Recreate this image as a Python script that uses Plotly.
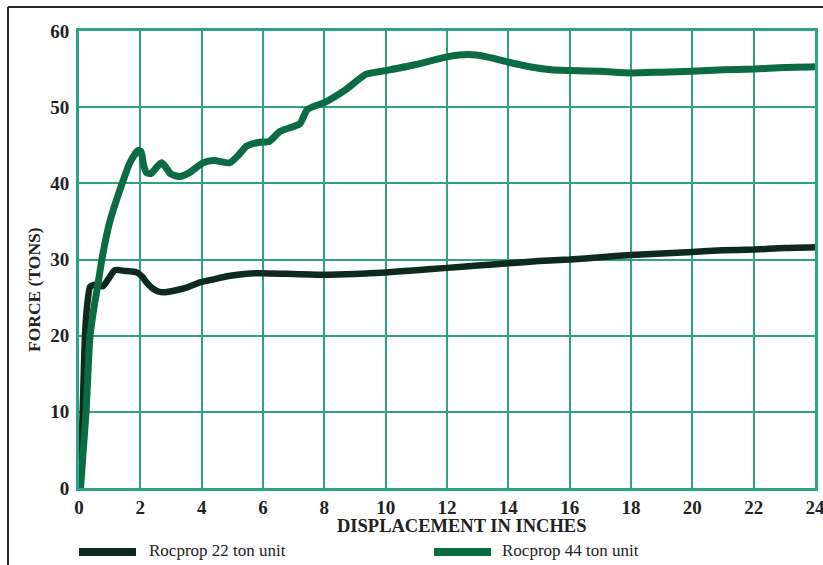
import plotly.graph_objects as go

# Rocprop 22 ton unit (dark line)
x22 = [0.05, 0.12, 0.2, 0.28, 0.36, 0.52, 0.78, 0.95, 1.17, 1.5, 1.89, 2.05, 2.2, 2.4, 2.58, 2.8, 2.97, 3.5, 3.95, 4.4, 4.83, 5.4, 5.9, 7.0, 8.0, 9.0, 10.0, 11.0, 12.0, 13.0, 14.0, 15.0, 16.0, 17.0, 18.0, 19.0, 20.0, 21.0, 22.0, 23.0, 24.0]
y22 = [0.0, 10.0, 20.4, 24.5, 26.4, 26.7, 26.5, 27.4, 28.6, 28.5, 28.3, 27.8, 27.0, 26.2, 25.8, 25.7, 25.8, 26.3, 27.0, 27.4, 27.8, 28.1, 28.2, 28.1, 28.0, 28.1, 28.3, 28.6, 28.9, 29.2, 29.5, 29.8, 30.0, 30.3, 30.6, 30.8, 31.0, 31.2, 31.3, 31.5, 31.6]

# Rocprop 44 ton unit (green line)
x44 = [0.05, 0.23, 0.36, 0.5, 0.62, 0.75, 1.0, 1.34, 1.66, 1.92, 2.02, 2.1, 2.2, 2.35, 2.55, 2.7, 2.85, 3.0, 3.3, 3.6, 4.05, 4.4, 4.92, 5.2, 5.47, 5.9, 6.2, 6.55, 6.95, 7.2, 7.45, 8.0, 8.7, 9.35, 10.0, 11.0, 12.0, 12.7, 13.3, 14.0, 14.7, 15.4, 16.0, 17.0, 18.0, 19.0, 20.0, 21.0, 22.0, 23.0, 24.0]
y44 = [0.0, 10.0, 20.0, 24.0, 26.8, 30.1, 34.9, 39.2, 42.7, 44.3, 44.2, 42.5, 41.4, 41.3, 42.2, 42.7, 42.0, 41.2, 40.9, 41.4, 42.7, 43.0, 42.7, 43.7, 44.9, 45.4, 45.5, 46.8, 47.4, 47.8, 49.7, 50.6, 52.3, 54.3, 54.8, 55.6, 56.6, 56.9, 56.6, 55.9, 55.3, 54.9, 54.8, 54.7, 54.5, 54.6, 54.7, 54.9, 55.0, 55.2, 55.3]

x_ticks = [0, 2, 4, 6, 8, 10, 12, 14, 16, 18, 20, 22, 24]
y_ticks = [0, 10, 20, 30, 40, 50, 60]

names = ["Rocprop 22 ton unit", "Rocprop 44 ton unit"]
DARK = "#0c2a1d"
GREEN = "#0b6b44"
GRID = "#2fa185"
SERIF = "Liberation Serif, Times New Roman, serif"

W, H = 823, 565
L, R, T, B = 79, 8, 31, 77

def px(xp):
    return (xp - L) / (W - L - R)

def py(yp):
    return (H - B - yp) / (H - T - B)

fig = go.Figure()
fig.add_trace(go.Scatter(x=x22, y=y22, mode="lines", name=names[0],
                         line=dict(color=DARK, width=6.5, shape="spline", smoothing=0.6)))
fig.add_trace(go.Scatter(x=x44, y=y44, mode="lines", name=names[1],
                         line=dict(color=GREEN, width=7, shape="spline", smoothing=0.6)))

axis_common = dict(showgrid=True, gridcolor=GRID, gridwidth=1.5, zeroline=False,
                   showline=True, linecolor=GRID, linewidth=3, mirror=True, automargin=False,
                   ticklabeloverflow="allow",
                   ticks="", tickfont=dict(family=SERIF, size=19, color="#222222", weight="bold"))

fig.update_xaxes(range=[0, 24], tickvals=x_ticks, ticktext=[str(v) for v in x_ticks],
                 ticklabelstandoff=0, **axis_common)
fig.update_yaxes(range=[0, 60], tickvals=y_ticks, ticktext=[str(v) for v in y_ticks],
                 ticklabelstandoff=3, **axis_common)

annotations = [
    dict(text="<b>DISPLACEMENT IN INCHES</b>", x=px(462), y=py(526), xref="paper", yref="paper",
         showarrow=False, xanchor="center", yanchor="middle",
         font=dict(family=SERIF, size=18.5, color="#222222")),
    dict(text="<b>FORCE (TONS)</b>", x=px(34), y=py(290), xref="paper", yref="paper",
         showarrow=False, xanchor="center", yanchor="middle", textangle=-90,
         font=dict(family=SERIF, size=17.5, color="#222222")),
    dict(text=names[0], x=px(147), y=py(550), xref="paper", yref="paper",
         showarrow=False, xanchor="left", yanchor="middle",
         font=dict(family=SERIF, size=17, color="#222222")),
    dict(text=names[1], x=px(500), y=py(550), xref="paper", yref="paper",
         showarrow=False, xanchor="left", yanchor="middle",
         font=dict(family=SERIF, size=17, color="#222222")),
]

shapes = [
    # legend samples
    dict(type="line", xref="paper", yref="paper", x0=px(79), x1=px(136), y0=py(552), y1=py(552),
         line=dict(color=DARK, width=8)),
    dict(type="line", xref="paper", yref="paper", x0=px(434), x1=px(491), y0=py(552), y1=py(552),
         line=dict(color=GREEN, width=8)),
    # outer frame (top and left)
    dict(type="line", xref="paper", yref="paper", x0=px(8), x1=px(823), y0=py(7), y1=py(7),
         line=dict(color="#2a2a2a", width=2)),
    dict(type="line", xref="paper", yref="paper", x0=px(8), x1=px(8), y0=py(7), y1=py(565),
         line=dict(color="#2a2a2a", width=2)),
]

fig.update_layout(width=W, height=H, autosize=False, margin=dict(l=L, r=R, t=T, b=B, autoexpand=False),
                  paper_bgcolor="white", plot_bgcolor="white", showlegend=False,
                  annotations=annotations, shapes=shapes)

fig.write_html("out.html",
               config={"responsive": False, "displayModeBar": False},
               post_script="document.body.style.margin='0px';document.body.style.padding='0px';document.body.style.overflow='hidden';")
